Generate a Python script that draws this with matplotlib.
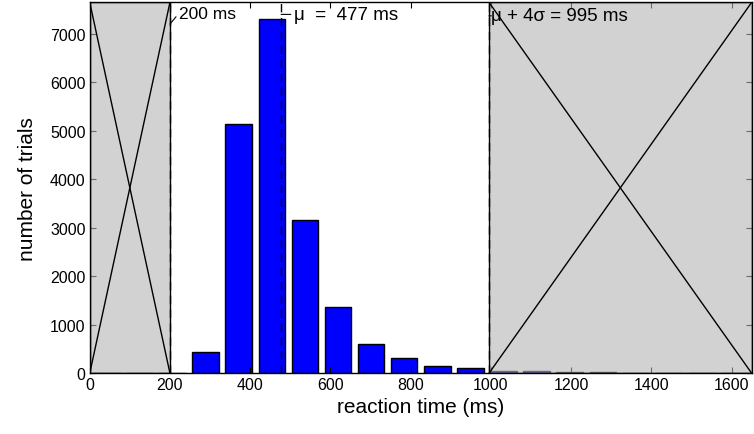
import numpy as np
import matplotlib
matplotlib.use("Agg")
import matplotlib.pyplot as plt
from matplotlib.patches import Rectangle

plt.rcParams['font.family'] = ['Liberation Sans', 'DejaVu Sans']

# histogram of reaction times: 20 bins from 0 to 1650 ms
bin_edges = np.linspace(0, 1650, 21)
counts = [0, 0, 10, 435, 5140, 7300, 3170, 1360, 605, 315,
          160, 110, 55, 40, 27, 20, 0, 0, 0, 0]

lower_cut = 200      # ms
mean_rt = 477        # ms
upper_cut = 995      # ms, mean + 4 sd
x_max = 1650
y_max = 7650

fig = plt.figure(figsize=(7.54, 4.35), dpi=100)
ax = fig.add_axes([0.119, 0.1395, 0.878, 0.853])

centers = (bin_edges[:-1] + bin_edges[1:]) / 2
width = (bin_edges[1] - bin_edges[0]) * 0.8
ax.bar(centers, counts, width=width, color='#0000ff', edgecolor='black',
       linewidth=1.0, zorder=1)

# excluded regions, shaded and crossed out
for x0, x1 in [(0, lower_cut), (upper_cut, x_max)]:
    ax.add_patch(Rectangle((x0, 0), x1 - x0, y_max, facecolor='#b4b4b4',
                           alpha=0.6, edgecolor='none', zorder=2))
    ax.add_patch(Rectangle((x0, 0), x1 - x0, y_max, facecolor='none',
                           edgecolor='black', linewidth=1.0, zorder=3))
    ax.plot([x0, x1], [0, y_max], color='black', linewidth=1.0, zorder=3)
    ax.plot([x0, x1], [y_max, 0], color='black', linewidth=1.0, zorder=3)

for xv in [lower_cut, mean_rt, upper_cut]:
    ax.axvline(xv, color='black', linestyle=(0, (6, 4)), linewidth=1.0, zorder=4)

arrow = dict(arrowstyle='-', color='black', lw=0.8, relpos=(0, 0.5),
             shrinkA=0, shrinkB=0)
ax.annotate(f'{lower_cut} ms', xy=(lower_cut, 7200), xytext=(222, 7420),
            ha='left', va='center', fontsize=12.5, arrowprops=arrow, zorder=5)
ax.annotate(f'\u03bc  =  {mean_rt} ms', xy=(mean_rt, 7400), xytext=(508, 7400),
            ha='left', va='center', fontsize=13.5, arrowprops=arrow, zorder=5)
ax.annotate(f'\u03bc + 4\u03c3 = {upper_cut} ms', xy=(upper_cut, 7370),
            xytext=(1001, 7370), ha='left', va='center', fontsize=13.5,
            arrowprops=arrow, zorder=5)

ax.set_xlim(0, x_max)
ax.set_ylim(0, y_max)
ax.set_xticks(np.arange(0, 1601, 200))
ax.set_yticks(np.arange(0, 7001, 1000))
ax.tick_params(direction='in', top=True, right=True, length=4,
               labelsize=11.5, width=0.8, pad=3)
for s in ax.spines.values():
    s.set_linewidth(1.0)
    s.set_zorder(6)

ax.set_xlabel('reaction time (ms)', fontsize=15, labelpad=3)
ax.set_ylabel('number of trials', fontsize=15, labelpad=9)

fig.savefig('out.png', dpi=100)
